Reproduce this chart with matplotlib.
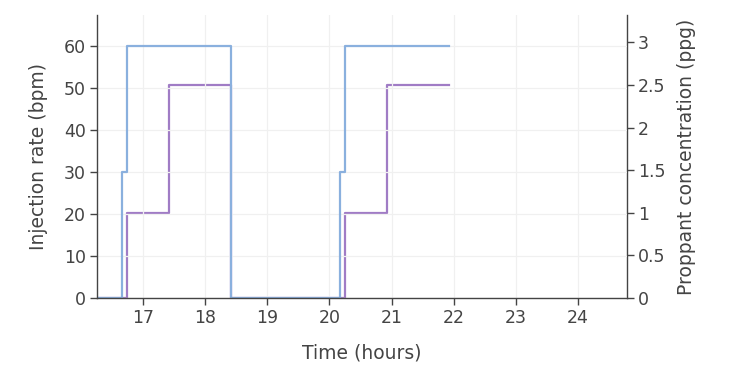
import numpy as np
import matplotlib.pyplot as plt

# step data (time in hours)
rate_t = [16.26, 16.66, 16.75, 18.42, 20.17, 20.25, 21.92]
rate_v = [0, 30, 60, 0, 30, 60, 60]
prop_t = [16.26, 16.75, 17.42, 18.42, 20.25, 20.92, 21.92]
prop_v = [0, 1.0, 2.5, 0, 1.0, 2.5, 2.5]

txt = '#444444'
plt.rcParams['font.family'] = 'DejaVu Sans'

fig = plt.figure(figsize=(7.33, 3.79), dpi=100)
ax = fig.add_axes([97 / 733, 1 - 298 / 379, 530 / 733, 283 / 379])
ax2 = ax.twinx()

ax2.step(prop_t, prop_v, where='post', color='#a07cc5', lw=1.6)
ax.step(rate_t, rate_v, where='post', color='#8ab0de', lw=1.6)
ax.set_zorder(ax2.get_zorder() + 1)
ax.patch.set_visible(False)

ax.set_xlim(16.26, 24.79)
ax.set_ylim(0, 67.4)
ax2.set_ylim(0, 3.32)
ax.set_xticks(range(17, 25))
ax.set_yticks(range(0, 61, 10))
ax2.set_yticks([0, 0.5, 1, 1.5, 2, 2.5, 3])
ax2.set_yticklabels(['0', '0.5', '1', '1.5', '2', '2.5', '3'])

ax.grid(True, color='#f0f0f0', lw=0.9)
ax.set_axisbelow(True)

for a in (ax, ax2):
    a.spines['top'].set_visible(False)
    for s in ('left', 'right', 'bottom'):
        a.spines[s].set_color(txt)
        a.spines[s].set_linewidth(1)
    a.tick_params(colors=txt, labelcolor=txt, labelsize=12.5, length=5, width=1,
                  direction='out', pad=3)
ax.spines['right'].set_visible(False)
ax2.spines['left'].set_visible(False)
ax2.spines['bottom'].set_visible(False)

ax.set_xlabel('Time (hours)', fontsize=13.5, color=txt, labelpad=12)
ax.set_ylabel('Injection rate (bpm)', fontsize=13.5, color=txt, labelpad=11)
ax2.set_ylabel('Proppant concentration (ppg)', fontsize=13.5, color=txt, labelpad=8)

fig.savefig('out.png', dpi=100)
